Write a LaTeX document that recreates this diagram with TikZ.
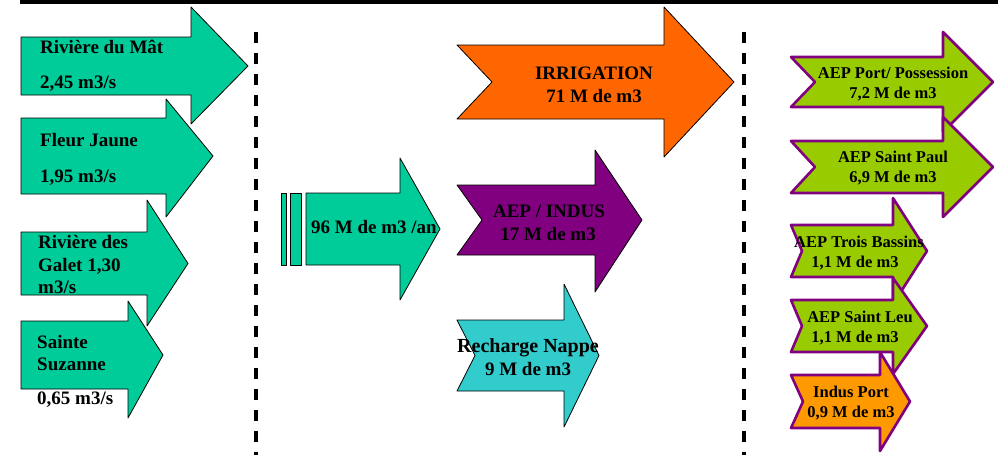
\documentclass[tikz,border=0pt]{standalone}
\usepackage{fontspec}
\setmainfont{Liberation Serif}
\definecolor{vertd}{HTML}{00CC99}
\definecolor{vertc}{HTML}{99CC00}
\definecolor{orangeirr}{HTML}{FF6600}
\definecolor{orangeind}{HTML}{FF9900}
\definecolor{violetaep}{HTML}{800080}
\definecolor{turquoise}{HTML}{33CCCC}
\begin{document}
\begin{tikzpicture}[line join = round, x=1pt, y=-1pt]
			\tikzset{pics/fleche/.style args={#1/#2/#3/#4/#5/#6/#7/#8}{code={
					\path[pic actions](#1,#3)--(#5,#3)--(#5,#6)--(#8,{(#3+#4)/2})--(#5,#7)--(#5,#4)--(#1,#4)--(#2,{(#3+#4)/2})--cycle;
			}}}
			\tikzset{gauche/.style={fill=vertd,draw=black,line width=0.8pt},
				droite/.style={fill=vertc,draw=violetaep,line width=2.6pt},
				separ/.style={line width=4.5pt,dash pattern=on 11pt off 10pt},
				etiq/.style={inner sep=0pt,font=\bfseries\fontsize{19}{22}\selectfont},
				petit/.style={inner sep=0pt,font=\bfseries\fontsize{16.5}{20}\selectfont}}
			\useasboundingbox(0,0)rectangle(998,455);
			\draw[line width=3.5pt](20,1.75)--(998,1.75);
			\draw[separ](256,32)--(256,455);
			\draw[separ](744,32)--(744,455);
			% sources
			\pic[gauche]{fleche={21/21/37/95/191/7/124/248}};
			\pic[gauche]{fleche={21/21/118/194/166/99/217/213}};
			\pic[gauche]{fleche={21/21/232/295/147/200/326/188}};
			\pic[gauche]{fleche={21/21/321/389/128/301/418/163}};
			\node[etiq,anchor=base west](mat) at (40,53){Rivière du Mât};
			\node[etiq,anchor=base west](matq) at (40,88){2,45 m3/s};
			\node[etiq,anchor=base west](fleur) at (40,146){Fleur Jaune};
			\node[etiq,anchor=base west](fleurq) at (40,182){1,95 m3/s};
			\node[etiq,anchor=base west](galet) at (38,248){Rivière des};
			\node[etiq,anchor=base west](galetb) at (38,271){Galet 1,30};
			\node[etiq,anchor=base west](galetq) at (38,293){m3/s};
			\node[etiq,anchor=base west](suz) at (37,348){Sainte};
			\node[etiq,anchor=base west](suzb) at (37,370){Suzanne};
			\node[etiq,anchor=base west](suzq) at (37,404){0,65 m3/s};
			% total
			\draw[gauche](281,193)rectangle(286,265);
			\draw[gauche](290,193)rectangle(301,265);
			\pic[gauche]{fleche={306/306/193/265/400/158/300/440}};
			\node[etiq,anchor=base west](total) at (311,233){96 M de m3 /an};
			% usages
			\pic[fill=orangeirr,draw=black,line width=0.8pt]{fleche={457/492/45/119/664/7/157/734}};
			\pic[fill=violetaep,draw=black,line width=0.8pt]{fleche={457/482/185/255/595/150/292/642}};
			\pic[fill=turquoise,draw=black,line width=0.8pt]{fleche={457/475/320/391/564/284/427/599}};
			\node[etiq,anchor=base](irr) at (594,79){IRRIGATION};
			\node[etiq,anchor=base](irrq) at (594,102){71 M de m3};
			\node[etiq,anchor=base](aep) at (549,217){AEP / INDUS};
			\node[etiq,anchor=base](aepq) at (548,240){17 M de m3};
			\node[etiq,anchor=base,font=\bfseries\fontsize{20}{22}\selectfont](rech) at (528,352){Recharge Nappe};
			\node[etiq,anchor=base](rechq) at (528,375){9 M de m3};
			% distribution
			\pic[droite]{fleche={791/815/57/107/943/32/132/993}};
			\pic[droite]{fleche={791/815/141/193/943/117/217/993}};
			\pic[droite]{fleche={791/802/225/277/893/198/304/927}};
			\pic[droite]{fleche={791/802/300/352/893/278/374/927}};
			\pic[droite,fill=orangeind]{fleche={791/803/375/428/880/352/451/910}};
			\node[petit,anchor=base](port) at (893,78){AEP Port/ Possession};
			\node[petit,anchor=base](portq) at (893,98){7,2 M de m3};
			\node[petit,anchor=base](paul) at (893,162){AEP Saint Paul};
			\node[petit,anchor=base](paulq) at (893,182){6,9 M de m3};
			\node[petit,anchor=base](bass) at (859,247){AEP Trois Bassins};
			\node[petit,anchor=base](bassq) at (855,267){1,1 M de m3};
			\node[petit,anchor=base](leu) at (860,322){AEP Saint Leu};
			\node[petit,anchor=base](leuq) at (855,342){1,1 M de m3};
			\node[petit,anchor=base](indus) at (851,397){Indus Port};
			\node[petit,anchor=base](indusq) at (851,417){0,9 M de m3};
		\end{tikzpicture}
\end{document}
